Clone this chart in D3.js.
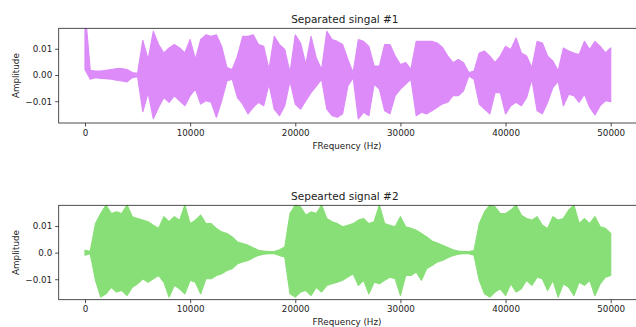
<!DOCTYPE html>
<html>
<head>
<meta charset="utf-8">
<script src="https://cdn.jsdelivr.net/npm/d3@7"></script>
<style>
  body { margin: 0; background: #fff; }
  svg { display: block; font-family: "DejaVu Sans", sans-serif; }
</style>
</head>
<body>
<svg id="chart" width="636" height="327"></svg>
<script>
// sample grid (Hz) for the envelope readings
const freqs = d3.range(0, 50001, 500);

// envelopes, in units of 1e-3
const sig1Hi = [25, 1.8, 1.5, 1.5, 1.8, 2.1, 2.4, 2.4, 2.1, 0.9,
  0.6, 13.2, 5.9, 16.6, 11.6, 8.4, 10.3, 11.6, 10.3, 8.4,
  13.5, 5.9, 13.5, 15.3, 14.7, 15.3, 10.9, 2.8, 2.1, 7.2,
  14.7, 14.7, 15.3, 11.6, 10.9, 2.1, 14.7, 11.6, 9.7, 0.9,
  15.3, 12.2, 4.0, 14.7, 6.5, 2.1, 16.6, 13.5, 12.8, 11.6,
  5.9, 0.9, 13.5, 12.8, 10.9, 3.4, 3.4, 11.6, 11.6, 7.2,
  4.0, 4.7, 2.1, 12.8, 12.8, 12.8, 12.8, 12.2, 10.5, 7.2,
  4.7, 5.9, 4.7, 0.9, 1.5, 8.4, 9.1, 7.2, 4.7, 7.2,
  10.9, 9.7, 14.1, 8.4, 7.2, 2.8, 12.8, 12.2, 7.2, 5.3,
  1.5, 10.3, 9.1, 8.4, 7.8, 12.8, 9.7, 12.8, 10.9, 8.4,
  10.3];
const sig1Lo = [2.1, -1.6, -1.0, -1.3, -1.4, -1.6, -2.0, -2.3, -2.6, -1.0,
  -0.6, -14.0, -6.7, -16.7, -12.3, -8.6, -10.4, -7.9, -9.8, -11.7,
  -7.9, -5.4, -11.1, -9.8, -10.4, -16.1, -9.8, -2.3, -1.6, -8.6,
  -11.1, -14.8, -12.3, -10.4, -11.7, -3.5, -13.0, -15.5, -11.7, -2.3,
  -11.1, -13.0, -9.8, -6.7, -4.2, -1.6, -13.0, -15.5, -16.1, -14.8,
  -4.2, -1.0, -16.7, -14.2, -15.5, -3.5, -5.4, -13.6, -14.8, -7.9,
  -5.4, -3.5, -1.6, -15.5, -14.2, -14.8, -13.6, -12.3, -11.0, -10.4,
  -7.9, -7.9, -6.0, -0.4, -1.6, -11.1, -13.0, -14.8, -6.7, -6.7,
  -14.8, -11.7, -10.4, -11.7, -8.6, -1.6, -13.6, -14.8, -10.4, -4.8,
  -2.3, -11.7, -7.3, -7.9, -10.4, -7.3, -12.3, -15.2, -11.7, -9.8,
  -10.2];
const sig2Hi = [0.9, 0.5, 10.9, 14.7, 17.9, 14.7, 15.3, 14.7, 17.9, 13.5,
  12.8, 12.2, 11.6, 10.3, 9.1, 13.5, 11.6, 13.5, 12.2, 17.9,
  10.9, 12.2, 14.1, 10.9, 10.9, 9.1, 7.8, 7.2, 5.9, 4.0,
  3.4, 2.8, 1.8, 0.9, 0.6, 0.4, 0.4, 1.1, 2.1, 14.7,
  17.9, 17.2, 14.1, 15.3, 14.7, 17.9, 12.8, 11.6, 10.9, 9.7,
  10.3, 10.9, 12.2, 12.8, 10.9, 11.6, 17.9, 10.9, 10.3, 9.7,
  13.5, 9.7, 9.1, 8.4, 7.2, 5.9, 4.4, 3.6, 2.8, 1.9,
  1.1, 0.6, 0.4, 0.4, 0.8, 10.9, 15.3, 17.9, 17.2, 14.7,
  14.7, 16.0, 17.9, 14.1, 12.8, 12.2, 13.5, 10.3, 9.1, 13.5,
  12.2, 12.8, 16.0, 17.9, 10.9, 12.8, 10.9, 13.5, 9.7, 9.1,
  7.2];
const sig2Lo = [-1.0, -0.4, -10.4, -16.7, -15.5, -13.0, -14.8, -14.2, -16.1, -13.0,
  -11.7, -9.8, -11.1, -9.8, -8.6, -11.1, -16.7, -12.3, -13.6, -15.5,
  -10.4, -11.1, -15.5, -9.8, -9.8, -8.6, -7.9, -6.7, -6.0, -4.2,
  -3.5, -2.9, -1.9, -1.0, -0.6, -0.4, -0.4, -1.1, -1.6, -15.5,
  -16.7, -14.8, -14.2, -16.1, -13.0, -14.8, -12.3, -11.7, -11.1, -10.4,
  -9.2, -7.9, -12.3, -10.4, -15.5, -11.1, -11.7, -10.4, -9.2, -9.8,
  -16.1, -8.6, -8.6, -7.3, -10.4, -6.0, -4.8, -3.5, -2.9, -1.9,
  -1.1, -0.6, -0.4, -0.4, -1.0, -10.4, -15.5, -16.7, -14.8, -13.6,
  -16.1, -11.7, -14.8, -13.6, -10.4, -12.3, -9.2, -9.8, -14.2, -10.4,
  -16.7, -11.7, -13.0, -16.1, -11.1, -12.3, -10.4, -16.1, -11.7, -9.2,
  -8.6];

const xTicks = [0, 10000, 20000, 30000, 40000, 50000];
const yTicks = [-10, 0, 10];
const yLabels1 = ["\u22120.01", "0.00", "0.01"];
const yLabels2 = ["\u22120.01", "0.0", "0.01"];
const titles = ["Separated singal #1", "Sepearted signal #2"];

const svg = d3.select('#chart');
const left = 58.7, right = 637;

const panels = [
  { top: 28.3, bottom: 123, hi: sig1Hi, lo: sig1Lo, color: '#dc8bf9', yDom: [-18.3, 17.8], yLab: yLabels1, title: titles[0] },
  { top: 205.3, bottom: 299.7, hi: sig2Hi, lo: sig2Lo, color: '#88df77', yDom: [-17.7, 17.8], yLab: yLabels2, title: titles[1] }
];

panels.forEach((p, i) => {
  const x = d3.scaleLinear().domain([-2500, 52500]).range([left, right]);
  const y = d3.scaleLinear().domain(p.yDom).range([p.bottom, p.top]);

  const clipId = 'clip' + i;
  svg.append('clipPath').attr('id', clipId)
    .append('rect')
    .attr('x', left).attr('y', p.top)
    .attr('width', right - left).attr('height', p.bottom - p.top);

  const rows = freqs.map((f, k) => ({ f, hi: p.hi[k], lo: p.lo[k] }));

  const area = d3.area()
    .x(d => x(d.f))
    .y0(d => y(d.lo))
    .y1(d => y(d.hi));

  svg.append('path')
    .datum(rows)
    .attr('clip-path', `url(#${clipId})`)
    .attr('d', area)
    .attr('fill', p.color)
    .attr('stroke', p.color)
    .attr('stroke-width', 1.2)
    .attr('stroke-linejoin', 'round');

  // axes
  const xAxis = d3.axisBottom(x).tickValues(xTicks).tickSize(3.5).tickPadding(3).tickFormat(d3.format('d'));
  const yAxis = d3.axisLeft(y).tickValues(yTicks).tickSize(3.5).tickPadding(3)
    .tickFormat((d, k) => p.yLab[k]);

  const gx = svg.append('g').attr('transform', `translate(0,${p.bottom})`).call(xAxis);
  const gy = svg.append('g').attr('transform', `translate(${left},0)`).call(yAxis);
  [gx, gy].forEach(g => {
    g.select('.domain').remove();
    g.selectAll('line').attr('stroke', '#222').attr('stroke-width', 0.8);
    g.selectAll('text').attr('fill', '#222').style('font-size', '8.75px').style('font-family', '"DejaVu Sans"');
  });

  // frame
  svg.append('rect')
    .attr('x', left).attr('y', p.top)
    .attr('width', right - left).attr('height', p.bottom - p.top)
    .attr('fill', 'none').attr('stroke', '#222').attr('stroke-width', 0.8);

  svg.append('text')
    .attr('x', (left + right) / 2 - 3).attr('y', p.top - 5.5)
    .attr('text-anchor', 'middle')
    .attr('fill', '#222').style('font-size', '10.5px')
    .text(p.title);

  svg.append('text')
    .attr('x', 347).attr('y', p.bottom + 25.5)
    .attr('text-anchor', 'middle')
    .attr('fill', '#222').style('font-size', '8.75px')
    .text('FRequency (Hz)');

  svg.append('text')
    .attr('transform', `translate(19,${(p.top + p.bottom) / 2}) rotate(-90)`)
    .attr('text-anchor', 'middle')
    .attr('fill', '#222').style('font-size', '8.75px')
    .text('Amplitude');
});
</script>
</body>
</html>
